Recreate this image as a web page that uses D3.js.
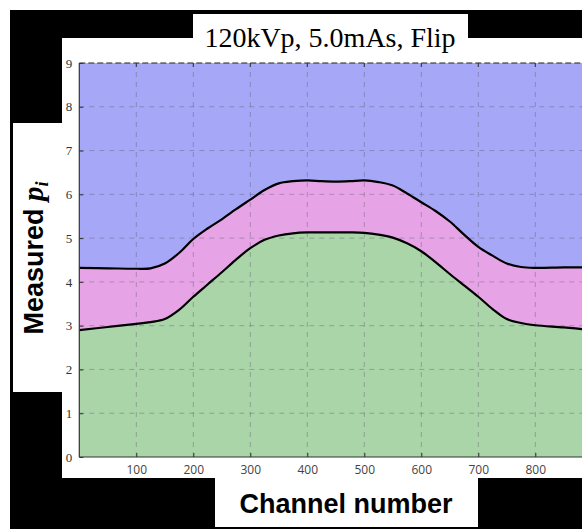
<!DOCTYPE html>
<html><head><meta charset="utf-8">
<script src="https://cdn.jsdelivr.net/npm/d3@7"></script>
<style>html,body{margin:0;padding:0;background:#fff;}svg{display:block;}</style>
</head><body>
<svg id="c" width="582" height="529"></svg>
<script>
const channels = [0,50,100,125,150,175,200,225,250,275,300,325,350,375,400,425,450,475,500,525,550,575,600,625,650,675,700,725,750,775,800,850,900];
const lowerCurve = [2.90,2.97,3.04,3.08,3.15,3.36,3.66,3.94,4.22,4.51,4.77,4.96,5.06,5.11,5.13,5.13,5.13,5.13,5.12,5.08,5.01,4.88,4.70,4.45,4.18,3.92,3.66,3.38,3.15,3.06,3.01,2.96,2.90];
const upperCurve = [4.32,4.31,4.30,4.31,4.42,4.66,4.98,5.22,5.43,5.66,5.88,6.10,6.25,6.30,6.32,6.30,6.29,6.30,6.32,6.28,6.20,6.02,5.82,5.62,5.38,5.08,4.80,4.60,4.42,4.34,4.32,4.33,4.33];
const xTicks = [100,200,300,400,500,600,700,800];
const yTicks = [0,1,2,3,4,5,6,7,8,9];
const titleText = "120kVp, 5.0mAs, Flip";
const xLabel = "Channel number";

const svg = d3.select("#c");
// frame
svg.append("rect").attr("x",10).attr("y",10).attr("width",572).attr("height",519).attr("fill","#000");
svg.append("rect").attr("x",62).attr("y",38).attr("width",520).attr("height",440).attr("fill","#fff");
svg.append("rect").attr("x",193).attr("y",14).attr("width",275).attr("height",30).attr("fill","#fff");
svg.append("rect").attr("x",13).attr("y",123).attr("width",55).attr("height",269).attr("fill","#fff");
svg.append("rect").attr("x",215).attr("y",470).attr("width",263).attr("height",57).attr("fill","#fff");

const x = d3.scaleLinear().domain([0,800]).range([79.3,535.3]);
const y = d3.scaleLinear().domain([0,9]).range([457,63]);

svg.append("clipPath").attr("id","pc").append("rect")
  .attr("x",x(0)).attr("y",y(9)).attr("width",582-x(0)).attr("height",y(0)-y(9));
const g = svg.append("g").attr("clip-path","url(#pc)");

const data = channels.map((c,i)=>({c, lo:lowerCurve[i], up:upperCurve[i]}));
const curve = d3.curveCatmullRom.alpha(0.5);
// blue background
g.append("rect").attr("x",x(0)).attr("y",y(9)).attr("width",582-x(0)).attr("height",y(0)-y(9)).attr("fill","#a7a7f8");
g.append("path").datum(data).attr("fill","#e6a4e6")
  .attr("d",d3.area().x(d=>x(d.c)).y0(y(0)).y1(d=>y(d.up)).curve(curve));
g.append("path").datum(data).attr("fill","#a9d5a9")
  .attr("d",d3.area().x(d=>x(d.c)).y0(y(0)).y1(d=>y(d.lo)).curve(curve));

// grid
g.selectAll(".gx").data(xTicks).enter().append("line")
  .attr("x1",d=>x(d)).attr("x2",d=>x(d)).attr("y1",y(0)).attr("y2",y(9))
  .attr("stroke","#555566").attr("stroke-opacity",0.38).attr("stroke-dasharray","5,5");
g.selectAll(".gy").data(yTicks.filter(d=>d>0&&d<9)).enter().append("line")
  .attr("x1",x(0)).attr("x2",582).attr("y1",d=>y(d)).attr("y2",d=>y(d))
  .attr("stroke","#555566").attr("stroke-opacity",0.38).attr("stroke-dasharray","5,5");
// top dashed border
svg.append("line").attr("x1",x(0)).attr("x2",582).attr("y1",y(9)).attr("y2",y(9))
  .attr("stroke","#222").attr("stroke-width",1.2).attr("stroke-dasharray","6,3");

// curves
g.append("path").datum(data).attr("fill","none").attr("stroke","#000").attr("stroke-width",2.2)
  .attr("d",d3.line().x(d=>x(d.c)).y(d=>y(d.up)).curve(curve));
g.append("path").datum(data).attr("fill","none").attr("stroke","#000").attr("stroke-width",2.2)
  .attr("d",d3.line().x(d=>x(d.c)).y(d=>y(d.lo)).curve(curve));

// axes
const xAx = svg.append("g").attr("transform",`translate(0,${y(0)})`)
  .call(d3.axisBottom(x).tickValues(xTicks).tickSize(-4).tickPadding(8));
xAx.select(".domain").remove();
xAx.selectAll(".tick line").attr("stroke","#333");
xAx.selectAll("text").attr("font-family","'Open Sans', sans-serif").attr("font-size",12).attr("fill","#444");
svg.append("line").attr("x1",x(0)).attr("x2",582).attr("y1",y(0)).attr("y2",y(0)).attr("stroke","#333").attr("stroke-width",1.2);
// top ticks
svg.selectAll(".tt").data(xTicks).enter().append("line")
  .attr("x1",d=>x(d)).attr("x2",d=>x(d)).attr("y1",y(9)).attr("y2",y(9)+4).attr("stroke","#333");

const yAx = svg.append("g").attr("transform",`translate(${x(0)},0)`)
  .call(d3.axisLeft(y).tickValues(yTicks).tickSize(-4).tickPadding(7));
yAx.select(".domain").remove();
yAx.selectAll(".tick line").attr("stroke","#333");
yAx.selectAll("text").attr("font-family","'Liberation Serif', serif").attr("font-size",13).attr("fill","#333");
svg.append("line").attr("x1",x(0)).attr("x2",x(0)).attr("y1",y(9)).attr("y2",y(0)).attr("stroke","#333").attr("stroke-width",1.2);

// title
svg.append("text").attr("x",330).attr("y",47).attr("text-anchor","middle")
  .attr("font-family","'Liberation Serif', serif").attr("font-size",28).attr("fill","#000")
  .text(titleText);
// x label
svg.append("text").attr("x",346).attr("y",513).attr("text-anchor","middle")
  .attr("font-family","'Liberation Sans', Arial, sans-serif").attr("font-weight","bold").attr("font-size",27).attr("fill","#000")
  .text(xLabel);
// y label
const yl = svg.append("text").attr("transform","translate(43,258) rotate(-90)").attr("text-anchor","middle")
  .attr("font-family","'Liberation Sans', Arial, sans-serif").attr("font-weight","bold").attr("font-size",27).attr("fill","#000");
yl.append("tspan").text("Measured ");
yl.append("tspan").attr("font-family","'Liberation Serif', serif").attr("font-style","italic").attr("font-size",29).text("p");
yl.append("tspan").attr("font-family","'Liberation Serif', serif").attr("font-style","italic").attr("font-size",18).attr("dy",5).text("i");
</script>
</body></html>
